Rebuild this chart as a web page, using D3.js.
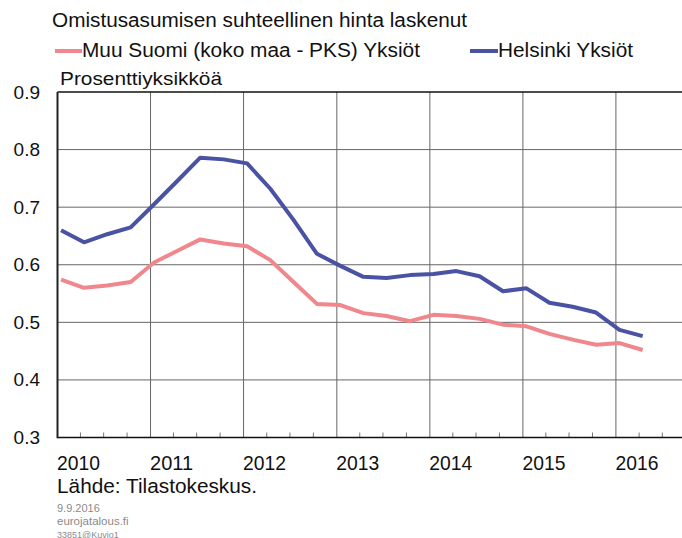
<!DOCTYPE html>
<html>
<head>
<meta charset="utf-8">
<script src="https://cdn.jsdelivr.net/npm/d3@7/dist/d3.min.js"></script>
<style>
  html, body { margin: 0; padding: 0; background: #fff; }
  svg { display: block; font-family: "Liberation Sans", Arial, sans-serif; }
</style>
</head>
<body>
<svg id="chart" width="682" height="538"></svg>
<script>
// Quarterly observations (first month of each quarter)
const quarters = [
  "2010-01", "2010-04", "2010-07", "2010-10",
  "2011-01", "2011-04", "2011-07", "2011-10",
  "2012-01", "2012-04", "2012-07", "2012-10",
  "2013-01", "2013-04", "2013-07", "2013-10",
  "2014-01", "2014-04", "2014-07", "2014-10",
  "2015-01", "2015-04", "2015-07", "2015-10",
  "2016-01", "2016-04"
];

// Muu Suomi (koko maa - PKS) Yksiöt
const muuSuomi = [
  0.574, 0.560, 0.564, 0.570,
  0.604, 0.624, 0.644, 0.637,
  0.632, 0.608, 0.570, 0.532,
  0.530, 0.516, 0.511, 0.502,
  0.513, 0.511, 0.506, 0.496,
  0.493, 0.480, 0.470, 0.461,
  0.464, 0.452
];

// Helsinki Yksiöt
const helsinki = [
  0.660, 0.639, 0.653, 0.665,
  0.705, 0.745, 0.786, 0.783,
  0.776, 0.732, 0.678, 0.619,
  0.598, 0.579, 0.577, 0.582,
  0.584, 0.589, 0.580, 0.554,
  0.559, 0.534, 0.527, 0.517,
  0.487, 0.476
];

const yTicks = [0.3, 0.4, 0.5, 0.6, 0.7, 0.8, 0.9];
const yearLabels = ["2010", "2011", "2012", "2013", "2014", "2015", "2016"];

const seriesNames = ["Muu Suomi (koko maa - PKS) Yksiöt", "Helsinki Yksiöt"];
const seriesColors = ["#f0878c", "#4a53a3"];

const svg = d3.select("#chart");
const W = 682;
const plotLeft = 57.5, plotTop = 92, plotBottom = 437.5, yearPx = 93.1;

const parseMonth = d3.timeParse("%Y-%m");
const x = d3.scaleTime()
  .domain([new Date(2010, 0, 1), new Date(2017, 0, 1)])
  .range([plotLeft, plotLeft + yearPx * 7]);
const y = d3.scaleLinear().domain([0.3, 0.9]).range([plotBottom, plotTop]);

// points sit in the middle of the quarter's first month
const dates = quarters.map(q => d3.timeDay.offset(parseMonth(q), 14));

// horizontal grid
svg.append("g")
  .selectAll("line")
  .data(yTicks.filter(v => v > 0.3 && v < 0.9))
  .join("line")
  .attr("x1", plotLeft).attr("x2", W)
  .attr("y1", d => y(d)).attr("y2", d => y(d))
  .attr("stroke", "#666").attr("stroke-width", 1);

// vertical grid at year boundaries
const yearStarts = yearLabels.map(s => new Date(+s, 0, 1));
svg.append("g")
  .selectAll("line")
  .data(yearStarts.slice(1))
  .join("line")
  .attr("x1", d => x(d)).attr("x2", d => x(d))
  .attr("y1", plotTop).attr("y2", plotBottom)
  .attr("stroke", "#666").attr("stroke-width", 1);

// top border
svg.append("line")
  .attr("x1", plotLeft).attr("x2", W)
  .attr("y1", y(0.9)).attr("y2", y(0.9))
  .attr("stroke", "#111").attr("stroke-width", 1.5);

// bottom axis with quarterly minor ticks
const qTicks = d3.timeMonth.every(3).range(new Date(2010, 0, 1), new Date(2017, 0, 2));
svg.append("g")
  .selectAll("line")
  .data(qTicks.filter(d => d.getMonth() !== 0))
  .join("line")
  .attr("x1", d => x(d)).attr("x2", d => x(d))
  .attr("y1", plotBottom - 5).attr("y2", plotBottom)
  .attr("stroke", "#777").attr("stroke-width", 1);

svg.append("line")
  .attr("x1", plotLeft).attr("x2", W)
  .attr("y1", plotBottom).attr("y2", plotBottom)
  .attr("stroke", "#111").attr("stroke-width", 1.6);

// left axis
svg.append("line")
  .attr("x1", plotLeft).attr("x2", plotLeft)
  .attr("y1", plotTop).attr("y2", plotBottom + 0.8)
  .attr("stroke", "#222").attr("stroke-width", 2);

// y tick labels
svg.append("g")
  .selectAll("text")
  .data(yTicks)
  .join("text")
  .attr("x", 40).attr("y", d => y(d) + 6.5)
  .attr("text-anchor", "end")
  .attr("font-size", 19)
  .attr("fill", "#111")
  .text(d => d3.format(".1f")(d));

// year labels
svg.append("g")
  .selectAll("text")
  .data(yearLabels)
  .join("text")
  .attr("x", (d, i) => x(yearStarts[i]) - 0.5)
  .attr("y", 470)
  .attr("font-size", 21)
  .attr("textLength", 43)
  .attr("lengthAdjust", "spacingAndGlyphs")
  .attr("fill", "#111")
  .text(d => d);

// series lines
const line = d3.line()
  .x((d, i) => x(dates[i]))
  .y(d => y(d));

[muuSuomi, helsinki].forEach((vals, s) => {
  svg.append("path")
    .datum(vals)
    .attr("d", line)
    .attr("fill", "none")
    .attr("stroke", seriesColors[s])
    .attr("stroke-width", 4)
    .attr("stroke-linejoin", "round");
});

// title
svg.append("text")
  .attr("x", 52).attr("y", 27)
  .attr("font-size", 20)
  .attr("textLength", 415).attr("lengthAdjust", "spacingAndGlyphs")
  .attr("fill", "#111")
  .text("Omistusasumisen suhteellinen hinta laskenut");

// legend
const legend = [
  { name: seriesNames[0], color: seriesColors[0], x0: 55, x1: 82, w: 338 },
  { name: seriesNames[1], color: seriesColors[1], x0: 470, x1: 498, w: 135 }
];
legend.forEach(l => {
  svg.append("line")
    .attr("x1", l.x0).attr("x2", l.x1)
    .attr("y1", 51).attr("y2", 51)
    .attr("stroke", l.color).attr("stroke-width", 4);
  svg.append("text")
    .attr("x", l.x1).attr("y", 57)
    .attr("font-size", 20)
    .attr("textLength", l.w).attr("lengthAdjust", "spacingAndGlyphs")
    .attr("fill", "#111")
    .text(l.name);
});

// unit label
svg.append("text")
  .attr("x", 60).attr("y", 85)
  .attr("font-size", 19)
  .attr("textLength", 162).attr("lengthAdjust", "spacingAndGlyphs")
  .attr("fill", "#111")
  .text("Prosenttiyksikköä");

// source
svg.append("text")
  .attr("x", 57).attr("y", 493)
  .attr("font-size", 20.5)
  .attr("textLength", 200).attr("lengthAdjust", "spacingAndGlyphs")
  .attr("fill", "#111")
  .text("Lähde: Tilastokeskus.");

// footer
const footer = [
  { t: "9.9.2016", y: 512, s: 11 },
  { t: "eurojatalous.fi", y: 525, s: 11.5 },
  { t: "33851@Kuvio1", y: 537.5, s: 9 }
];
svg.append("g")
  .selectAll("text")
  .data(footer)
  .join("text")
  .attr("x", 57).attr("y", d => d.y)
  .attr("font-size", d => d.s)
  .attr("fill", "#8a8a8a")
  .text(d => d.t);
</script>
</body>
</html>
